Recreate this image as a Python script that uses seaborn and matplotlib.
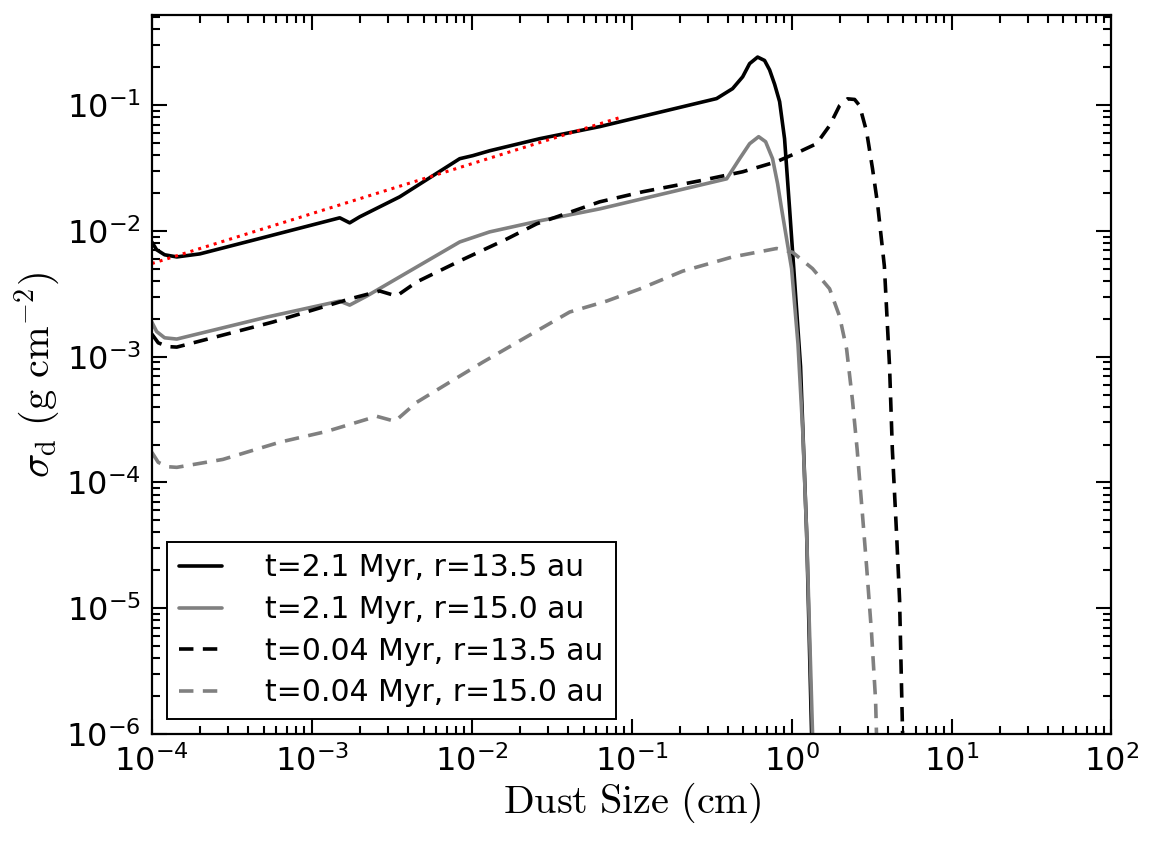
import numpy as np
import pandas as pd
import seaborn as sns
import matplotlib
matplotlib.use("Agg")
import matplotlib.pyplot as plt

# values, as log10 of dust size (cm) and log10 of sigma_d
a_logx = [-4.0, -3.97, -3.92, -3.844, -3.70, -3.263, -2.825, -2.763, -2.70, -2.45, -2.075, -1.994,
          -1.888, -1.575, -1.2, -0.469, -0.369, -0.306, -0.2625, -0.2125, -0.169, -0.1375, -0.106,
          -0.075, -0.044, -0.0125, 0.031, 0.056, 0.094, 0.125, 0.14]
a_logy = [-2.088, -2.15, -2.19, -2.207, -2.183, -2.04, -1.896, -1.936, -1.888, -1.729, -1.426, -1.402,
          -1.363, -1.267, -1.171, -0.948, -0.869, -0.775, -0.67, -0.618, -0.645, -0.72, -0.835,
          -0.972, -1.267, -1.825, -2.62, -3.08, -4.40, -6.0, -6.6]

b_logx = [-4.0, -3.97, -3.92, -3.844, -3.28, -2.825, -2.763, -2.656, -2.075, -1.888, -1.575, -1.2,
          -0.406, -0.325, -0.2625, -0.206, -0.1625, -0.119, -0.0875, -0.0625, 0.0, 0.04, 0.07,
          0.094, 0.131, 0.145]
b_logy = [-2.725, -2.80, -2.85, -2.86, -2.685, -2.558, -2.59, -2.518, -2.088, -2.008, -1.92, -1.825,
          -1.586, -1.426, -1.307, -1.251, -1.291, -1.426, -1.625, -1.825, -2.3, -2.9, -3.6,
          -4.40, -6.0, -6.6]

c_logx = [-4.0, -3.96, -3.90, -3.844, -3.244, -2.76, -2.575, -2.47, -2.344, -2.075, -1.78, -1.594,
          -1.2, -0.931, -0.575, -0.306, -0.094, 0.05, 0.156, 0.2375, 0.30, 0.35, 0.394, 0.425,
          0.469, 0.506, 0.5375, 0.58, 0.6125, 0.63, 0.656, 0.675, 0.694, 0.70]
c_logy = [-2.82, -2.89, -2.92, -2.924, -2.725, -2.54, -2.478, -2.518, -2.406, -2.239, -2.064, -1.944,
          -1.769, -1.689, -1.602, -1.53, -1.45, -1.37, -1.307, -1.163, -1.004, -0.95, -0.955, -1.004,
          -1.211, -1.506, -1.785, -2.28, -3.08, -3.74, -4.40, -4.93, -6.0, -6.6]

d_logx = [-4.0, -3.96, -3.90, -3.844, -3.556, -3.2, -2.906, -2.594, -2.48, -2.344, -2.1375, -1.931,
          -1.681, -1.3875, -1.156, -0.95, -0.681, -0.369, -0.094, 0.006, 0.131, 0.2375, 0.30,
          0.344, 0.38, 0.41, 0.444, 0.469, 0.5, 0.525, 0.535]
d_logy = [-3.76, -3.84, -3.875, -3.88, -3.817, -3.68, -3.594, -3.474, -3.514, -3.363, -3.203, -3.044,
          -2.86, -2.645, -2.558, -2.462, -2.32, -2.207, -2.14, -2.17, -2.30, -2.46, -2.68,
          -2.94, -3.34, -3.74, -4.27, -4.67, -5.2, -5.73, -6.2]

fit_x = [1.0e-4, 0.088]
fit_y = [0.0055, 0.081]

labels = ["t=2.1 Myr, r=13.5 au", "t=2.1 Myr, r=15.0 au",
          "t=0.04 Myr, r=13.5 au", "t=0.04 Myr, r=15.0 au"]

sns.set_style("ticks")
plt.rcParams["font.family"] = ["DejaVu Sans"]
plt.rcParams["axes.unicode_minus"] = False
plt.rcParams["mathtext.fontset"] = "dejavusans"
plt.rcParams["text.color"] = "black"
plt.rcParams["axes.labelcolor"] = "black"

fig = plt.figure(figsize=(11.59, 8.46), dpi=100)
ax = fig.add_axes([0.131, 0.1324, 0.828, 0.8498])

series = [(a_logx, a_logy, "black", "-"), (b_logx, b_logy, "gray", "-"),
          (c_logx, c_logy, "black", "--"), (d_logx, d_logy, "gray", "--")]

for (lx, ly, col, ls), lab in zip(series, labels):
    df = pd.DataFrame({"size": 10 ** np.array(lx), "sigma": 10 ** np.array(ly)})
    sns.lineplot(data=df, x="size", y="sigma", ax=ax, color=col, lw=2.6,
                 estimator=None, sort=False, label=lab)
    line = ax.get_lines()[-1]
    line.set_solid_joinstyle("round")
    if ls == "--":
        line.set_dashes((4, 2.6))

sns.lineplot(x=fit_x, y=fit_y, ax=ax, color="red", lw=2.2, estimator=None)
ax.get_lines()[-1].set_linestyle(":")

ax.set_xscale("log")
ax.set_yscale("log")
ax.set_xlim(1e-4, 1e2)
ax.set_ylim(1e-6, 0.52)

ax.tick_params(which="both", direction="in", top=True, right=True, width=1.5,
               labelsize=23, colors="black")
ax.tick_params(which="major", length=11, pad=8)
ax.tick_params(which="minor", length=5.5)
for s in ax.spines.values():
    s.set_linewidth(1.6)
    s.set_color("black")

ax.set_xlabel(r"$\rm Dust\ Size\ (cm)$", fontsize=29, math_fontfamily="cm", labelpad=2)
ax.set_ylabel(r"$\sigma_{\rm d}\ ({\rm g\ cm^{-2}})$", fontsize=29, math_fontfamily="cm", labelpad=2)

handles, labs = ax.get_legend_handles_labels()
leg = ax.legend(handles[:4], labs[:4], loc="lower left", fontsize=21.5, frameon=True,
                fancybox=False, framealpha=1, edgecolor="black", handlelength=1.45,
                handletextpad=1.45, labelspacing=0.42, borderaxespad=0.5)
leg.get_frame().set_linewidth(1.4)
for t in leg.get_texts():
    t.set_color("black")

fig.savefig("out.png", dpi=100)
